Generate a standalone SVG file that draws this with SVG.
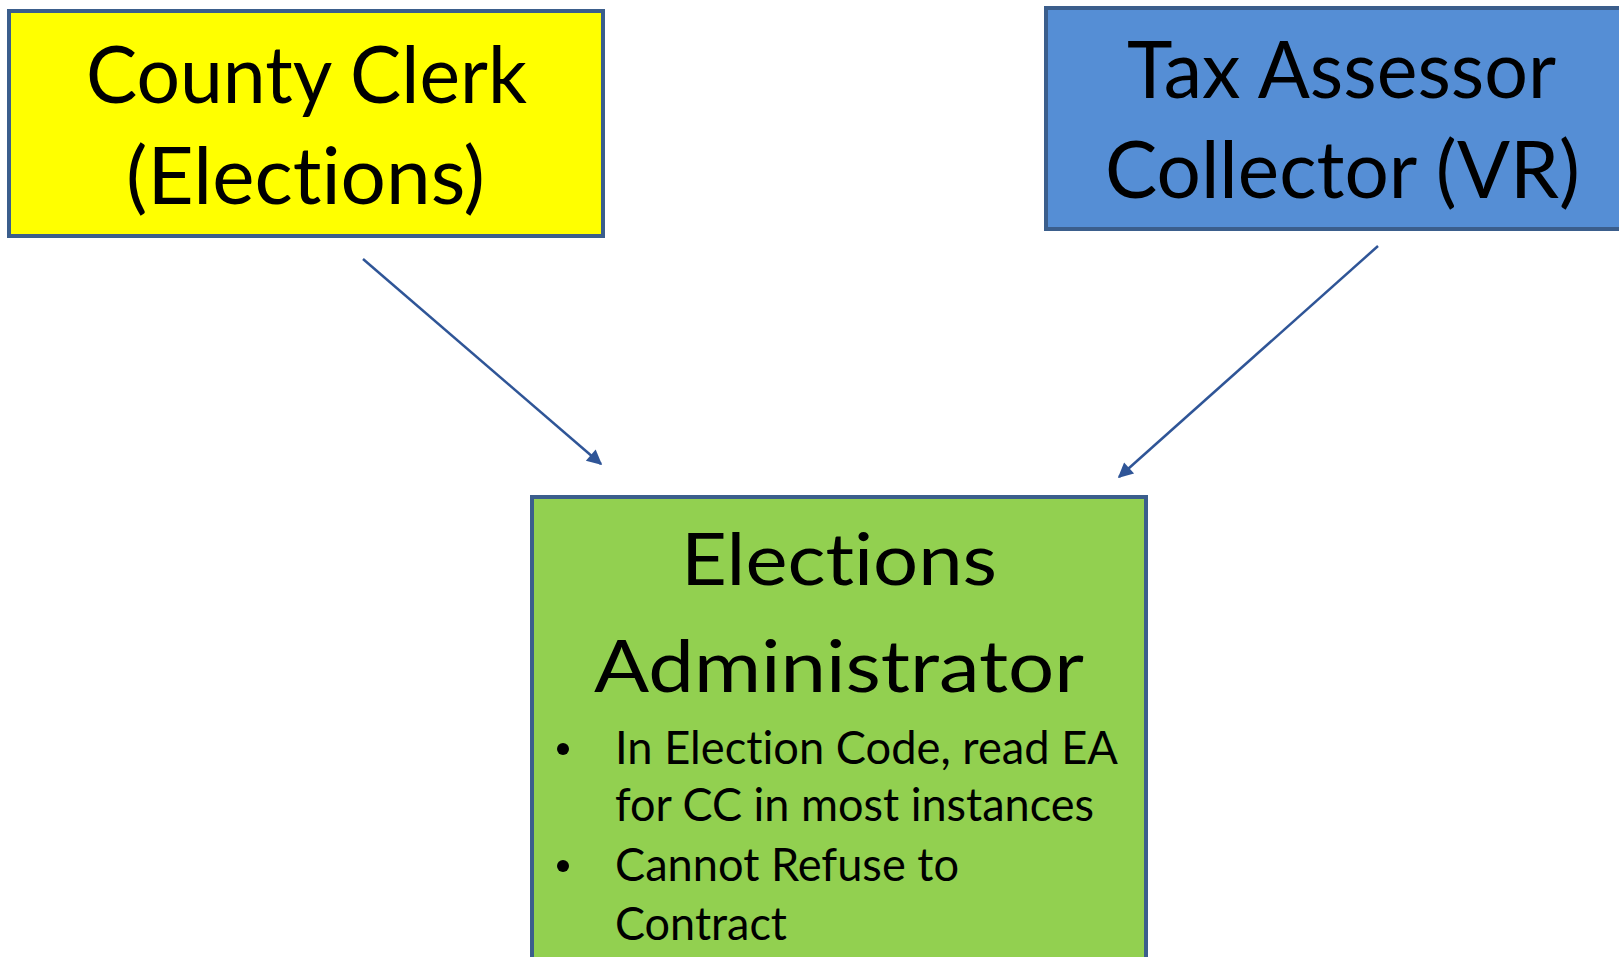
<svg xmlns="http://www.w3.org/2000/svg" width="1619" height="957" viewBox="0 0 1619 957">
<style>
.box{stroke:#3B5E8C;stroke-width:4}
.t{font-family:Lato,"Liberation Sans",Arial,sans-serif;fill:#000;font-variant-ligatures:none;font-feature-settings:"liga" 0}
.big{font-size:80px}
.mid{font-size:71px}
.sm{font-size:46px}
.conn{stroke:#2F5597;stroke-width:2.5;fill:none}
</style>
<defs>
<marker id="ah" viewBox="0 0 10 10" refX="9" refY="5" markerWidth="7" markerHeight="6" orient="auto" markerUnits="strokeWidth">
<path d="M0,0 L10,5 L0,10 z" fill="#2F5597"/>
</marker>
</defs>
<rect width="1619" height="957" fill="#fff"/>
<g id="connectors">
<line class="conn" x1="363" y1="259" x2="601" y2="464" marker-end="url(#ah)"/>
<line class="conn" x1="1378" y1="246" x2="1119" y2="477" marker-end="url(#ah)"/>
</g>
<g id="county-clerk">
<rect class="box" x="9" y="11" width="594" height="225" fill="#FFFF00"/>
<text class="t big" x="86" y="103" textLength="441" lengthAdjust="spacingAndGlyphs">County Clerk</text>
<text class="t big" x="126" y="204" textLength="359" lengthAdjust="spacingAndGlyphs">(Elections)</text>
</g>
<g id="tax-assessor">
<rect class="box" x="1046" y="8" width="580" height="221" fill="#558ED5"/>
<text class="t big" x="1127" y="98" textLength="429" lengthAdjust="spacingAndGlyphs">Tax Assessor</text>
<text class="t big" x="1105" y="198" textLength="475" lengthAdjust="spacingAndGlyphs">Collector (VR)</text>
</g>
<g id="elections-administrator">
<rect class="box" x="532" y="497" width="614" height="470" fill="#92D050"/>
<text class="t mid" x="681" y="585" textLength="316" lengthAdjust="spacingAndGlyphs">Elections</text>
<text class="t mid" x="594" y="692" textLength="490" lengthAdjust="spacingAndGlyphs">Administrator</text>
<circle cx="563" cy="749" r="6" fill="#000"/>
<circle cx="563" cy="866" r="6" fill="#000"/>
<text class="t sm" x="615" y="764" textLength="503" lengthAdjust="spacingAndGlyphs">In Election Code, read EA</text>
<text class="t sm" x="615" y="821" textLength="479" lengthAdjust="spacingAndGlyphs">for CC in most instances</text>
<text class="t sm" x="615" y="881" textLength="344" lengthAdjust="spacingAndGlyphs">Cannot Refuse to</text>
<text class="t sm" x="615" y="940" textLength="172" lengthAdjust="spacingAndGlyphs">Contract</text>
</g>
</svg>
